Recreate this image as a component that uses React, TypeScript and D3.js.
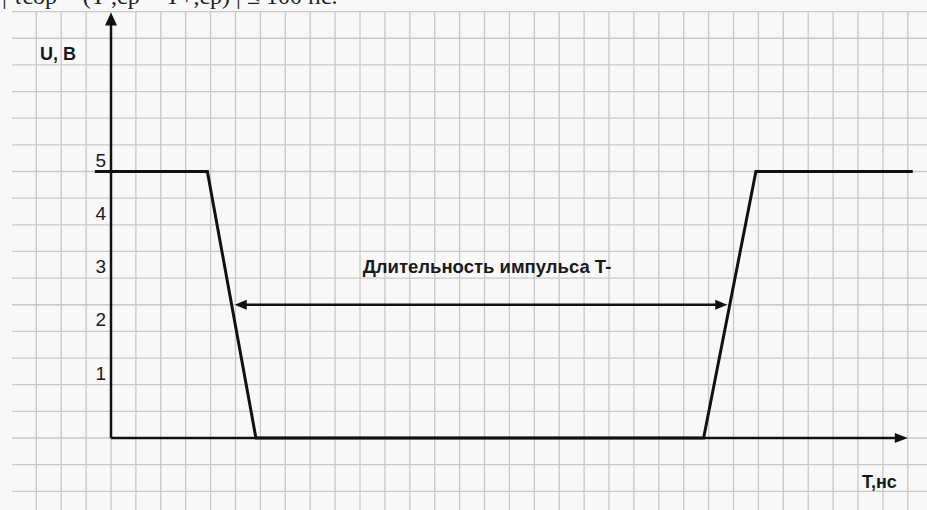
import React from 'react';
import * as d3 from 'd3';

// waveform, x in grid cells, U in volts
const pulseT = [-0.65, 3.87, 5.82, 23.8, 25.9, 32.2];
const pulseU = [5, 5, 0, 0, 5, 5];

const voltTicks = [1, 2, 3, 4, 5];
const gridCols = d3.range(-3, 33);
const gridRows = d3.range(-1, 8.01, 0.5);

const measureU = 2.5;
const measureFrom = 4.97;
const measureTo = 24.75;

const title = 'Длительность импульса T-';
const yTitle = 'U, В';
const xTitle = 'T,нс';
const topLine = '| τсор = (T-,ср − T+,ср) | ≤ 100 нс.';

const W = 927, H = 510;

export default function App() {
  const x = d3.scaleLinear().domain([0, 32]).range([111, 907.8]);
  const y = d3.scaleLinear().domain([0, 5]).range([438, 171.5]);

  const line = d3.line<number>()
    .x((d, i) => x(pulseT[i]))
    .y((d, i) => y(pulseU[i]));

  const ink = '#111';
  const ax = x(0), ay = y(0);
  const yTop = y(8) + 1;
  const xEnd = x(32);
  const my = y(measureU);

  return (
    <svg width={W} height={H} style={{ position: 'absolute', left: 0, top: 0 }}>
      <rect width={W} height={H} fill="#f8f8f8" />
      <text x={2} y={4} fontFamily="Liberation Serif" fontSize={24} fill="#222">{topLine}</text>

      <g stroke="#c8c8c8" strokeWidth={1.3}>
        {gridCols.map(c => (
          <line key={'c' + c} x1={x(c)} x2={x(c)} y1={y(8)} y2={H} />
        ))}
        {gridRows.map(r => (
          <line key={'r' + r} x1={12} x2={W} y1={y(r)} y2={y(r)} />
        ))}
      </g>

      {/* axes */}
      <line x1={ax} x2={ax} y1={ay} y2={yTop + 10} stroke={ink} strokeWidth={2.5} />
      <path d={`M${ax},${yTop} L${ax - 6},${yTop + 13} L${ax + 6},${yTop + 13} Z`} fill={ink} />
      <line x1={ax} x2={xEnd - 10} y1={ay} y2={ay} stroke={ink} strokeWidth={2.5} />
      <path d={`M${xEnd},${ay} L${xEnd - 13},${ay - 5} L${xEnd - 13},${ay + 5} Z`} fill={ink} />

      {/* pulse */}
      <path d={line(pulseU) || ''} fill="none" stroke={ink} strokeWidth={3} strokeLinejoin="miter" />

      {/* duration arrow */}
      <line x1={x(measureFrom) + 8} x2={x(measureTo) - 8} y1={my} y2={my} stroke={ink} strokeWidth={2.3} />
      <path d={`M${x(measureFrom)},${my} L${x(measureFrom) + 12},${my - 5} L${x(measureFrom) + 12},${my + 5} Z`} fill={ink} />
      <path d={`M${x(measureTo)},${my} L${x(measureTo) - 12},${my - 5} L${x(measureTo) - 12},${my + 5} Z`} fill={ink} />

      <g fontFamily="Liberation Sans, Arial" fill="#1a1a1a">
        {voltTicks.map(v => (
          <text key={v} x={106} y={y(v) - 5} textAnchor="end" fontSize={19}>{v}</text>
        ))}
        <text x={40} y={60} fontSize={18} fontWeight="bold">{yTitle}</text>
        <text x={487} y={273} fontSize={18.5} fontWeight="bold" textAnchor="middle">{title}</text>
        <text x={862} y={488} fontSize={18} fontWeight="bold">{xTitle}</text>
      </g>
    </svg>
  );
}
